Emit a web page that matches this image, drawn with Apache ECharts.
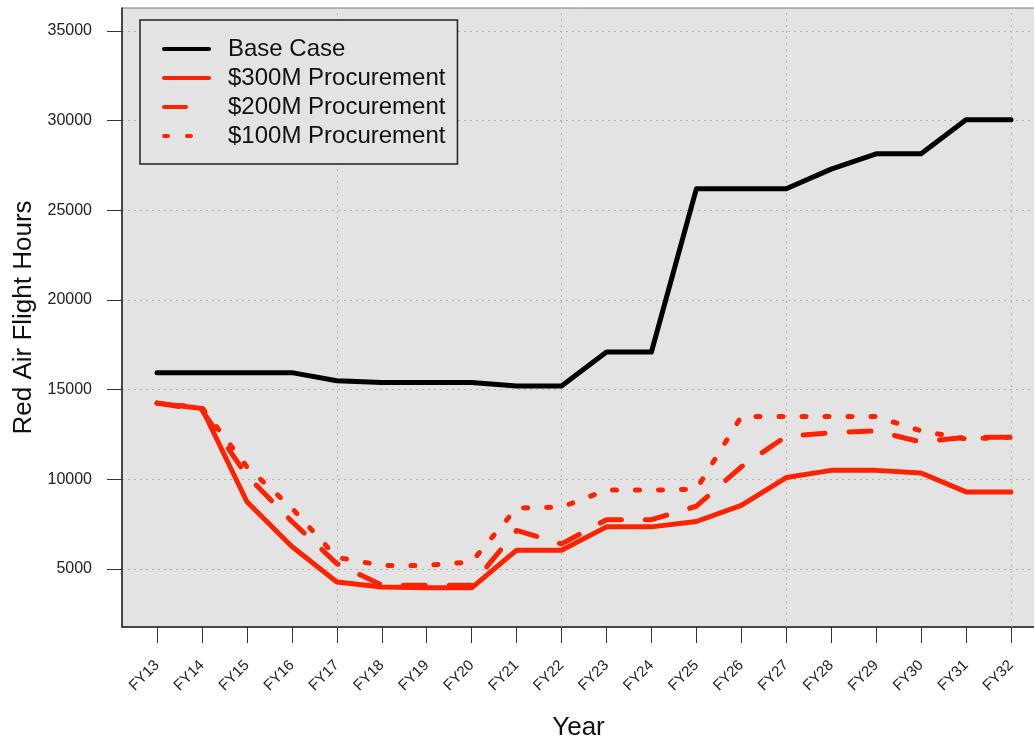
<!DOCTYPE html>
<html>
<head>
<meta charset="utf-8">
<title>Red Air Flight Hours</title>
<script src="https://cdn.jsdelivr.net/npm/echarts@6/dist/echarts.min.js"></script>
<style>
  html, body { margin: 0; padding: 0; background: #fff; }
  #chart { width: 1034px; height: 743px; }
</style>
</head>
<body>
<div id="chart"></div>
<script>
// fiscal years along the x axis
var years = ['FY13', 'FY14', 'FY15', 'FY16', 'FY17', 'FY18', 'FY19', 'FY20', 'FY21', 'FY22',
             'FY23', 'FY24', 'FY25', 'FY26', 'FY27', 'FY28', 'FY29', 'FY30', 'FY31', 'FY32'];

var baseCase = [15950, 15950, 15950, 15950, 15500, 15400, 15400, 15400, 15200, 15200,
                17100, 17100, 26200, 26200, 26200, 27300, 28150, 28150, 30050, 30050];
var proc300 = [14250, 13950, 8750, 6250, 4280, 4000, 3950, 3950, 6050, 6050,
               7350, 7350, 7650, 8550, 10100, 10500, 10500, 10350, 9300, 9300];
var proc200 = [14250, 13850, 10200, 7650, 5300, 4100, 4100, 4100, 7150, 6400,
               7750, 7750, 8500, 10700, 12400, 12600, 12700, 12080, 12350, 12350];
var proc100 = [14250, 14000, 10700, 8400, 5650, 5200, 5200, 5400, 8400, 8450,
               9400, 9400, 9450, 13500, 13500, 13500, 13500, 12700, 12250, 12350];

var yTicks = [5000, 10000, 15000, 20000, 25000, 30000, 35000];
var xGridAt = [4, 9, 14, 19];   // FY17, FY22, FY27, FY32

var RED = '#FF2200';
var FONT = 'Liberation Sans';

function pairs(values) {
	var out = [];
	for (var i = 0; i < values.length; i++) {
		out.push([i, values[i]]);
	}
	return out;
}

function lineSeries(name, values, color, dash) {
	return {
		name: name,
		type: 'line',
		data: pairs(values),
		symbol: 'none',
		showSymbol: false,
		color: color,
		lineStyle: { color: color, width: 5, type: dash, cap: 'round', join: 'round' }
	};
}

var myChart = echarts.init(document.getElementById('chart'), null, { renderer: 'canvas' });

var xIdx = [];
for (var k = 0; k < years.length; k++) xIdx.push(k);

var option = {
	animation: false,
	backgroundColor: '#ffffff',
	textStyle: { fontFamily: FONT },
	grid: {
		left: 122, top: 8, right: -1, bottom: 116,
		outerBoundsMode: 'none',
		show: true,
		backgroundColor: '#E3E3E3',
		borderColor: '#777',
		borderWidth: 1
	},
	legend: {
		data: ['Base Case', '$300M Procurement', '$200M Procurement', '$100M Procurement'],
		orient: 'vertical',
		left: 140,
		top: 20,
		padding: [17, 12, 16, 22],
		itemWidth: 45,
		itemHeight: 24,
		itemGap: 5,
		backgroundColor: '#E3E3E3',
		borderColor: '#222',
		borderWidth: 1.5,
		itemStyle: { opacity: 0 },
		lineStyle: { width: 4 },
		textStyle: { fontFamily: FONT, fontSize: 24, color: '#111', padding: [0, 0, 0, 14] }
	},
	xAxis: {
		type: 'value',
		min: -0.78,
		max: 19.535,
		name: 'Year',
		nameLocation: 'middle',
		nameGap: 88,
		nameTextStyle: { fontFamily: FONT, fontSize: 26, color: '#111' },
		axisLine: { show: true, onZero: false, lineStyle: { color: '#222', width: 1.5 } },
		axisTick: { show: true, length: 16, customValues: xIdx, lineStyle: { color: '#333', width: 1 } },
		axisLabel: {
			customValues: xIdx,
			rotate: 45,
			margin: 36,
			fontFamily: FONT,
			fontSize: 15,
			color: '#222',
			formatter: function(v) { return years[Math.round(v)]; }
		},
		splitLine: { show: false }
	},
	yAxis: {
		type: 'value',
		min: 1766,
		max: 36283,
		name: 'Red Air Flight Hours',
		nameLocation: 'middle',
		nameRotate: 90,
		nameGap: 83,
		nameTextStyle: { fontFamily: FONT, fontSize: 26, color: '#111' },
		axisLine: { show: true, onZero: false, lineStyle: { color: '#222', width: 1.5 } },
		axisTick: { show: true, length: 15, customValues: yTicks, lineStyle: { color: '#333', width: 1 } },
		axisLabel: {
			customValues: yTicks,
			margin: 30,
			fontFamily: FONT,
			fontSize: 16,
			color: '#222',
			formatter: function(v) { return String(Math.round(v)); }
		},
		splitLine: { show: true, lineStyle: { color: '#B0B0B0', width: 1, type: [2, 4] } }
	},
	series: [
		{
			name: 'grid',
			type: 'line',
			data: [],
			silent: true,
			z: 1,
			markLine: {
				silent: true,
				symbol: 'none',
				z: 1,
				label: { show: false },
				lineStyle: { color: '#B0B0B0', width: 1, type: [2, 4] },
				data: xGridAt.map(function(x) { return { xAxis: x }; })
			}
		},
		lineSeries('Base Case', baseCase, '#000000', 'solid'),
		lineSeries('$300M Procurement', proc300, RED, 'solid'),
		lineSeries('$200M Procurement', proc200, RED, [22, 24]),
		lineSeries('$100M Procurement', proc100, RED, [4, 19])
	]
};

myChart.setOption(option);
</script>
</body>
</html>
